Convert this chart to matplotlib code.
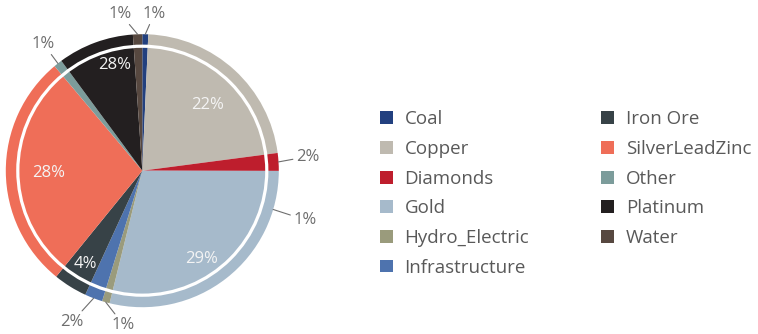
import matplotlib
matplotlib.use("Agg")
import numpy as np
import matplotlib.pyplot as plt

plt.rcParams['font.family'] = ['Open Sans', 'DejaVu Sans']

# slices, clockwise from 12 o'clock
sectors = ["Coal", "Copper", "Diamonds", "Gold", "Hydro_Electric", "Infrastructure",
           "Iron Ore", "SilverLeadZinc", "Other", "Platinum", "Water"]
shares = [0.7, 22.2, 2.1, 28.8, 0.9, 2.1, 4.0, 28.0, 1.0, 9.0, 1.1]
# labels as printed on the chart
pct_labels = ["1%", "22%", "2%", "29%", "1%", "2%", "4%", "28%", "1%", "28%", "1%"]
colors = ["#22407f", "#bfbab0", "#be1e2d", "#a6bacb", "#9a9b7c", "#4e73ae",
          "#374247", "#ef6e58", "#7c9c9b", "#231f20", "#574840"]

# label placement: inside -> (radius, angle shift), outside -> text position
inside = {1: (0.68, -2.5), 3: (0.78, -4.0), 6: (0.80, 0.7), 7: (0.69, 1.0), 9: (0.80, -5.5)}
outside = {0: (0.088, 1.15), 2: (1.209, 0.103), 4: (-0.139, -1.128),
           5: (-0.513, -1.106), 8: (-0.725, 0.93), 10: (-0.161, 1.15)}
stray = ("1%", -16.5, (1.19, -0.359))

grey = "#6e6e6e"
pct_size = 12

fig = plt.figure(figsize=(7.58, 3.34), dpi=100)
ax = fig.add_axes([0, 0, 1, 1])
wedges, _ = ax.pie(shares, colors=colors, startangle=90, counterclock=False,
                   radius=1, wedgeprops=dict(linewidth=0))
ax.add_patch(plt.Circle((0, 0), 0.912, fill=False, ec="white", lw=2.3))

for i, w in enumerate(wedges):
    mid = (w.theta1 + w.theta2) / 2
    if i in inside:
        r, shift = inside[i]
        a = np.deg2rad(mid + shift)
        ax.text(r * np.cos(a), r * np.sin(a), pct_labels[i], color="#f4f4f4",
                fontsize=pct_size, ha="center", va="center")
    elif i in outside:
        a = np.deg2rad(mid)
        ax.annotate(pct_labels[i], xy=(np.cos(a), np.sin(a)), xytext=outside[i],
                    color=grey, fontsize=pct_size, ha="center", va="center",
                    arrowprops=dict(arrowstyle="-", color=grey, lw=0.8,
                                    shrinkA=0, shrinkB=0))

a = np.deg2rad(stray[1])
ax.annotate(stray[0], xy=(np.cos(a), np.sin(a)), xytext=stray[2],
            color=grey, fontsize=pct_size, ha="center", va="center",
            arrowprops=dict(arrowstyle="-", color=grey, lw=0.8, shrinkA=0, shrinkB=0))

ax.set_xlim(-142.3 / 136.5, (758 - 142.3) / 136.5)
ax.set_ylim(-(334 - 170.7) / 136.5, 170.7 / 136.5)
ax.axis("off")

leg = fig.legend(wedges, sectors, ncol=2, loc="upper left",
                 bbox_to_anchor=(380 / 758, 1 - 110.5 / 334), frameon=False,
                 fontsize=13.5, handlelength=0.68, handleheight=0.68,
                 handletextpad=0.62, labelspacing=0.62, columnspacing=3.85,
                 borderpad=0, borderaxespad=0)
for t in leg.get_texts():
    t.set_color("#595959")

fig.savefig("out.png", dpi=100)
